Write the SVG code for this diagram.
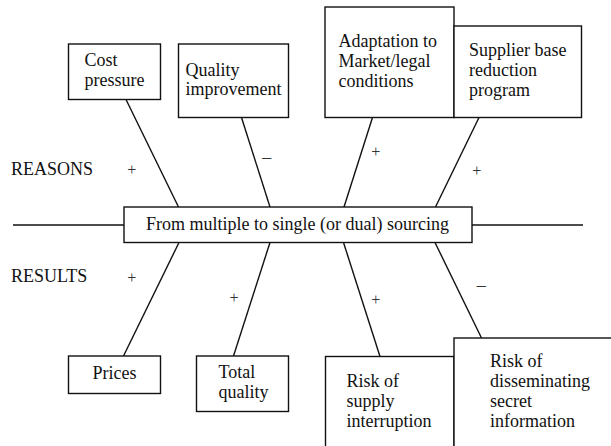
<svg xmlns="http://www.w3.org/2000/svg" width="611" height="446" viewBox="0 0 611 446" font-family="'Liberation Serif', 'DejaVu Serif', serif" font-size="18">
<style>
rect{fill:#fff;stroke:#111;stroke-width:1.4}
line{stroke:#111;stroke-width:1.4}
text{font-family:'Liberation Serif','DejaVu Serif',serif;font-size:18px;fill:#111}
text.s{font-size:16px;fill:#333}
text.m{font-size:18px;fill:#333}
</style>
<rect x="0" y="0" width="611" height="446" style="stroke:none"/>
<g id="connectors">
<line x1="13" y1="225" x2="124" y2="225"/>
<line x1="472" y1="225" x2="583" y2="225"/>
<line x1="126" y1="99.5" x2="178.5" y2="207"/>
<line x1="241.5" y1="117.5" x2="270" y2="207"/>
<line x1="372.5" y1="117.5" x2="344" y2="207"/>
<line x1="479" y1="117.5" x2="435.5" y2="207"/>
<line x1="179" y1="242.5" x2="123.5" y2="356"/>
<line x1="270" y1="242.5" x2="233.5" y2="356"/>
<line x1="343.5" y1="242.5" x2="380" y2="356.5"/>
<line x1="435" y1="242.5" x2="481.5" y2="338"/>
<text x="127.2" y="174.5" class="s">+</text>
<text x="262.3" y="162.5" class="m">–</text>
<text x="371.2" y="157" class="s">+</text>
<text x="472.2" y="175.7" class="s">+</text>
<text x="127.2" y="283.3" class="s">+</text>
<text x="229.5" y="302.7" class="s">+</text>
<text x="371.2" y="305" class="s">+</text>
<text x="476.7" y="291.3" class="m">–</text>
</g>
<g id="labels">
<text x="11" y="175">REASONS</text>
<text x="11" y="282.3">RESULTS</text>
</g>
<g id="main">
<rect x="124" y="207" width="348" height="35.5"/>
<text x="146" y="229.5">From multiple to single (or dual) sourcing</text>
</g>
<g id="cost">
<rect x="68.5" y="44" width="92" height="55.5"/>
<text x="84.5" y="66">Cost</text>
<text x="84.5" y="86">pressure</text>
</g>
<g id="quality">
<rect x="178.5" y="44" width="110" height="73.5"/>
<text x="185.5" y="76">Quality</text>
<text x="185.5" y="95">improvement</text>
</g>
<g id="adaptation">
<rect x="325" y="7" width="129" height="110.5"/>
<text x="338.5" y="47">Adaptation to</text>
<text x="338.5" y="67">Market/legal</text>
<text x="338.5" y="87">conditions</text>
</g>
<g id="supplier">
<rect x="454" y="26" width="127.5" height="91.5"/>
<text x="469" y="56">Supplier base</text>
<text x="469" y="76">reduction</text>
<text x="469" y="96">program</text>
</g>
<g id="prices">
<rect x="68.5" y="356" width="92" height="37.5"/>
<text x="92.5" y="379">Prices</text>
</g>
<g id="totalquality">
<rect x="196.5" y="356" width="92" height="55.5"/>
<text x="218.5" y="378">Total</text>
<text x="218.5" y="398">quality</text>
</g>
<g id="supply">
<rect x="325.5" y="356.5" width="128.5" height="100"/>
<text x="346.5" y="387">Risk of</text>
<text x="346.5" y="407">supply</text>
<text x="346.5" y="427">interruption</text>
</g>
<g id="secret">
<rect x="454" y="338" width="170" height="120"/>
<text x="490" y="367">Risk of</text>
<text x="490" y="387">disseminating</text>
<text x="490" y="407">secret</text>
<text x="490" y="427">information</text>
</g>
</svg>
